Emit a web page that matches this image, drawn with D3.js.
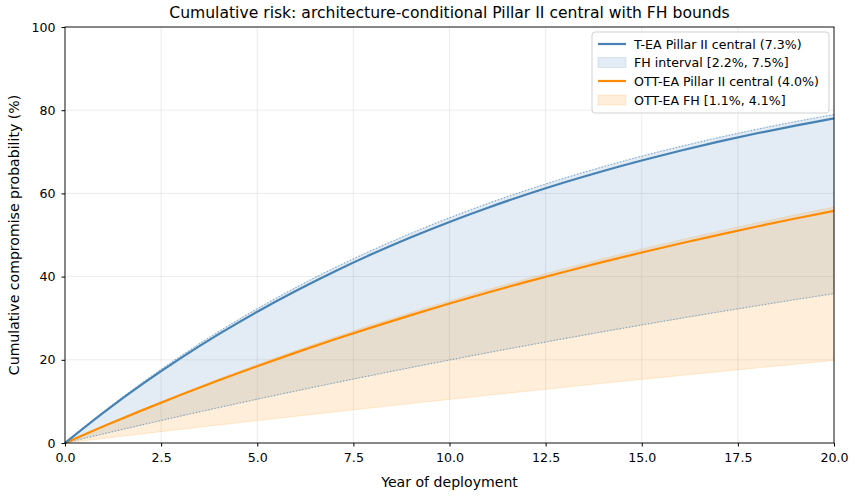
<!DOCTYPE html>
<html><head><meta charset="utf-8">
<script src="https://cdn.jsdelivr.net/npm/d3@7"></script>
<style>body{margin:0;background:#fff}svg{display:block;font-family:"DejaVu Sans",sans-serif}</style>
</head><body><svg id="c" width="855" height="497"></svg>
<script>
const years = [0,1,2,3,4,5,6,7,8,9,10,11,12,13,14,15,16,17,18,19,20];
const teaCentral = [0,7.3,14.07,20.34,26.16,31.55,36.54,41.18,45.47,49.45,53.14,56.56,59.73,62.67,65.40,67.92,70.26,72.44,74.45,76.31,78.04];
const teaLow = [0,2.2,4.35,6.46,8.51,10.53,12.49,14.42,16.30,18.14,19.94,21.71,23.43,25.11,26.76,28.37,29.95,31.49,33.00,34.47,35.91];
const teaHigh = [0,7.5,14.44,20.85,26.79,32.28,37.36,42.06,46.40,50.42,54.14,57.58,60.76,63.71,66.43,68.95,71.27,73.43,75.42,77.27,78.97];
const ottCentral = [0,4.0,7.84,11.53,15.07,18.46,21.72,24.86,27.86,30.75,33.52,36.18,38.73,41.18,43.53,45.79,47.96,50.04,52.04,53.96,55.80];
const ottLow = [0,1.1,2.19,3.26,4.33,5.38,6.42,7.45,8.47,9.48,10.47,11.46,12.43,13.39,14.35,15.29,16.22,17.14,18.05,18.95,19.85];
const ottHigh = [0,4.1,8.03,11.80,15.42,18.89,22.21,25.40,28.46,31.39,34.21,36.90,39.49,41.97,44.35,46.63,48.82,50.92,52.93,54.86,56.71];
const xTicks = [0,2.5,5,7.5,10,12.5,15,17.5,20];
const yTicks = [0,20,40,60,80,100];
const legendLabels = ["T-EA Pillar II central (7.3%)","FH interval [2.2%, 7.5%]","OTT-EA Pillar II central (4.0%)","OTT-EA FH [1.1%, 4.1%]"];
const titleText = "Cumulative risk: architecture-conditional Pillar II central with FH bounds";

const svg = d3.select("#c");
const L=65, R=834, T=27, B=443;
const x = d3.scaleLinear().domain([0,20]).range([L,R]);
const y = d3.scaleLinear().domain([0,100]).range([B,T]);
const blue="#4682b4", orange="#ff8c00";
const curve = d3.curveMonotoneX;

// grid
const g = svg.append("g");
g.selectAll(".gx").data(xTicks).join("line").attr("x1",d=>x(d)).attr("x2",d=>x(d)).attr("y1",T).attr("y2",B).attr("stroke","#b0b0b0").attr("stroke-opacity",0.3).attr("stroke-width",0.8);
g.selectAll(".gy").data(yTicks).join("line").attr("x1",L).attr("x2",R).attr("y1",d=>y(d)).attr("y2",d=>y(d)).attr("stroke","#b0b0b0").attr("stroke-opacity",0.3).attr("stroke-width",0.8);

const idx = years.map((_,i)=>i);
const area = (lo,hi)=>d3.area().x(i=>x(years[i])).y0(i=>y(lo[i])).y1(i=>y(hi[i])).curve(curve);
const line = arr=>d3.line().x(i=>x(years[i])).y(i=>y(arr[i])).curve(curve);

svg.append("path").attr("d",area(teaLow,teaHigh)(idx)).attr("fill",blue).attr("fill-opacity",0.15).attr("stroke",blue).attr("stroke-opacity",0.15).attr("stroke-width",1);
svg.append("path").attr("d",area(ottLow,ottHigh)(idx)).attr("fill",orange).attr("fill-opacity",0.15).attr("stroke",orange).attr("stroke-opacity",0.15).attr("stroke-width",1);

[teaLow,teaHigh].forEach(a=>svg.append("path").attr("d",line(a)(idx)).attr("fill","none").attr("stroke",blue).attr("stroke-opacity",0.6).attr("stroke-width",1.2).attr("stroke-dasharray","1.2,2"));

svg.append("path").attr("d",line(ottCentral)(idx)).attr("fill","none").attr("stroke",orange).attr("stroke-width",2.2);
svg.append("path").attr("d",line(teaCentral)(idx)).attr("fill","none").attr("stroke",blue).attr("stroke-width",2.2);

// frame
svg.append("rect").attr("x",L).attr("y",T).attr("width",R-L).attr("height",B-T).attr("fill","none").attr("stroke","#000").attr("stroke-width",0.9);

// axes
const xa = svg.append("g").attr("transform",`translate(0,${B})`).call(d3.axisBottom(x).tickValues(xTicks).tickFormat(d3.format(".1f")).tickSize(3.5).tickPadding(7));
const ya = svg.append("g").attr("transform",`translate(${L},0)`).call(d3.axisLeft(y).tickValues(yTicks).tickFormat(d3.format("d")).tickSize(3.5).tickPadding(6));
[xa,ya].forEach(a=>{a.select(".domain").remove();a.selectAll("text").attr("font-size",12.6).attr("fill","#000").attr("font-family","DejaVu Sans");a.selectAll("line").attr("stroke","#000");});

svg.append("text").attr("x",(L+R)/2).attr("y",18).attr("text-anchor","middle").attr("font-size",15.6).text(titleText);
svg.append("text").attr("x",(L+R)/2).attr("y",487).attr("text-anchor","middle").attr("font-size",14.1).text("Year of deployment");
svg.append("text").attr("transform",`translate(19,${(T+B)/2}) rotate(-90)`).attr("text-anchor","middle").attr("font-size",14.1).text("Cumulative compromise probability (%)");

// legend
const lg = svg.append("g");
lg.append("rect").attr("x",592).attr("y",32).attr("width",237).attr("height",81).attr("rx",3).attr("fill","#fff").attr("fill-opacity",0.8).attr("stroke","#ccc").attr("stroke-width",0.9);
const rows=[44,62.5,81,100];
legendLabels.forEach((t,i)=>{
  const yy=rows[i];
  const c = i<2?blue:orange;
  if(i%2===0) lg.append("line").attr("x1",598).attr("x2",626).attr("y1",yy).attr("y2",yy).attr("stroke",c).attr("stroke-width",2.2);
  else lg.append("rect").attr("x",598).attr("y",yy-5).attr("width",28).attr("height",10).attr("fill",c).attr("fill-opacity",0.15).attr("stroke",c).attr("stroke-opacity",0.15);
  lg.append("text").attr("x",634).attr("y",yy+4.5).attr("font-size",12.6).text(t);
});
</script></body></html>
